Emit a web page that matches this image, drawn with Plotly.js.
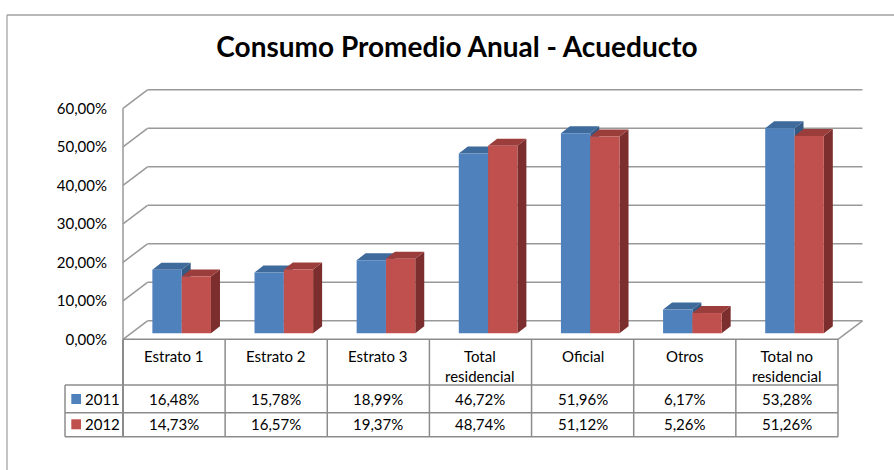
<!DOCTYPE html>
<html>
<head>
<meta charset="utf-8">
<script src="https://cdn.plot.ly/plotly-3.0.1.min.js"></script>
<style>html,body{margin:0;padding:0;background:#fff;}#chart{width:894px;height:470px;}</style>
</head>
<body>
<div id="chart"></div>
<script>
// ---- data ----
var categories = ['Estrato 1', 'Estrato 2', 'Estrato 3', 'Total residencial', 'Oficial', 'Otros', 'Total no residencial'];
var categoryLabels = ['Estrato 1', 'Estrato 2', 'Estrato 3', 'Total<br>residencial', 'Oficial', 'Otros', 'Total no<br>residencial'];
var seriesNames = ['2011', '2012'];
var values2011 = [16.48, 15.78, 18.99, 46.72, 51.96, 6.17, 53.28];
var values2012 = [14.73, 16.57, 19.37, 48.74, 51.12, 5.26, 51.26];
var yTickVals = [0, 10, 20, 30, 40, 50, 60];
var yTickText = ['0,00%', '10,00%', '20,00%', '30,00%', '40,00%', '50,00%', '60,00%'];

// ---- style / geometry constants ----
var W = 894, H = 470;
var PX_PER_CAT = 102.14, X_ZERO_PX = 174.07;
var PX_PER_UNIT_Y = 3.85, Y_ZERO_PX = 339.3;
function px2x(p) { return (p - X_ZERO_PX) / PX_PER_CAT; }
function px2y(p) { return (Y_ZERO_PX - p) / PX_PER_UNIT_Y; }
function dxu(p) { return p / PX_PER_CAT; }
function dyu(p) { return p / PX_PER_UNIT_Y; }

var BACK_DX = dxu(24.5), BACK_DY = dyu(18.5);
var BAR_DX0 = dxu(7.6), BAR_DY0 = dyu(6);
var BAR_W = dxu(29.3);
var BAR_DDX = dxu(9), BAR_DDY = dyu(7);
var colors = {
  front: ['#4F81BD', '#C0504D'],
  top: ['#3E6A9C', '#9B3D3B'],
  side: ['#355A85', '#7B2E2D']
};
var GRID = '#999999';
var TABLE = '#8C8C8C';
var FONT = 'Lato, "Open Sans", sans-serif';

var idx = categories.map(function (c, i) { return i; });
var nCat = categories.length;
var xL = -0.5, xR = nCat - 0.5;

var shapes = [];
function line(x0, y0, x1, y1, color, w, xref, yref) {
  shapes.push({type: 'line', xref: xref || 'x', yref: yref || 'y', x0: x0, y0: y0, x1: x1, y1: y1,
    line: {color: color, width: w}, layer: 'below'});
}
// back wall gridlines and left wall
yTickVals.forEach(function (v) {
  line(xL + BACK_DX, v + BACK_DY, xR + BACK_DX, v + BACK_DY, GRID, 1.5);
  line(xL, v, xL + BACK_DX, v + BACK_DY, GRID, 1.5);
});
line(xL, 0, xL, yTickVals[yTickVals.length - 1], GRID, 1.5);
line(xR, 0, xR + BACK_DX, BACK_DY, GRID, 1.5);

// bar 3D faces
var allSeries = [values2011, values2012];
allSeries.forEach(function (vals, s) {
  vals.forEach(function (v, i) {
    var x0 = i + BAR_DX0 - BAR_W + s * BAR_W;
    var x1 = x0 + BAR_W;
    var b = BAR_DY0, t = BAR_DY0 + v;
    shapes.push({type: 'path', xref: 'x', yref: 'y', layer: 'below', line: {width: 0},
      fillcolor: colors.side[s],
      path: 'M' + x1 + ',' + b + ' L' + x1 + ',' + t + ' L' + (x1 + BAR_DDX) + ',' + (t + BAR_DDY) +
        ' L' + (x1 + BAR_DDX) + ',' + (b + BAR_DDY) + ' Z'});
    shapes.push({type: 'path', xref: 'x', yref: 'y', layer: 'below', line: {width: 0},
      fillcolor: colors.top[s],
      path: 'M' + x0 + ',' + t + ' L' + x1 + ',' + t + ' L' + (x1 + BAR_DDX) + ',' + (t + BAR_DDY) +
        ' L' + (x0 + BAR_DDX) + ',' + (t + BAR_DDY) + ' Z'});
  });
});

// data table
var rowHeaderBottom = px2y(385), row1Bottom = px2y(412.7), row2Bottom = px2y(436.7);
var legendLeft = px2x(65);
line(xL, 0, xR, 0, TABLE, 1.5);
[rowHeaderBottom, row1Bottom, row2Bottom].forEach(function (yy) { line(legendLeft, yy, xR, yy, TABLE, 1.5); });
line(legendLeft, rowHeaderBottom, legendLeft, row2Bottom, TABLE, 1.5);
for (var k = 0; k <= nCat; k++) line(xL + k, 0, xL + k, row2Bottom, TABLE, k === 0 ? 2 : 1.5);

// chart border
shapes.push({type: 'line', xref: 'paper', yref: 'paper', x0: 7 / W, x1: 7 / W, y0: 1 - 15 / H, y1: -0.05, line: {color: '#B0B0B0', width: 1.5}});
shapes.push({type: 'line', xref: 'paper', yref: 'paper', x0: 7 / W, x1: 1.05, y0: 1 - 15 / H, y1: 1 - 15 / H, line: {color: '#A0A0A0', width: 1.5}});

var annotations = [];
var tf = {family: FONT, size: 15, color: '#000'};
categoryLabels.forEach(function (lab, i) {
  annotations.push({xref: 'x', yref: 'y', x: i, y: px2y(345), text: lab, showarrow: false, xanchor: 'center', yanchor: 'top', font: tf});
});
function fmt(v) { return v.toFixed(2).replace('.', ',') + '%'; }
var rowCenters = [px2y(399), px2y(424.3)];
allSeries.forEach(function (vals, s) {
  vals.forEach(function (v, i) {
    annotations.push({xref: 'x', yref: 'y', x: i, y: rowCenters[s], text: fmt(v), showarrow: false, xanchor: 'center', yanchor: 'middle', font: tf});
  });
  annotations.push({xref: 'x', yref: 'y', x: px2x(83), y: rowCenters[s], text: seriesNames[s], showarrow: false, xanchor: 'left', yanchor: 'middle', font: tf});
  shapes.push({type: 'rect', xref: 'x', yref: 'y', x0: px2x(71.3), x1: px2x(81), y0: rowCenters[s] - dyu(5), y1: rowCenters[s] + dyu(5),
    fillcolor: colors.front[s], line: {width: 0}});
});

var traces = allSeries.map(function (vals, s) {
  return {
    type: 'bar', name: seriesNames[s], x: idx, y: vals, base: BAR_DY0,
    width: BAR_W, offset: BAR_DX0 - BAR_W + s * BAR_W,
    marker: {color: colors.front[s], line: {width: 0}},
    hovertext: categories, hoverinfo: 'text+y+name'
  };
});

var layout = {
  width: W, height: H,
  margin: {l: 0, r: 0, t: 0, b: 0},
  paper_bgcolor: '#fff', plot_bgcolor: 'rgba(0,0,0,0)',
  showlegend: false, barmode: 'overlay',
  title: {text: 'Consumo Promedio Anual - Acueducto', x: 457 / W, xanchor: 'center', y: 1 - 47 / H, yanchor: 'middle',
    font: {family: FONT, size: 28, weight: 700, color: '#000'}},
  xaxis: {range: [px2x(0), px2x(W)], visible: false, fixedrange: true},
  yaxis: {range: [px2y(H), px2y(0)], tickvals: yTickVals, ticktext: yTickText, showgrid: false, zeroline: false,
    showline: false, ticks: '', anchor: 'free', position: 107 / W, tickfont: {family: FONT, size: 15, color: '#000'}, fixedrange: true},
  shapes: shapes,
  annotations: annotations
};
Plotly.newPlot('chart', traces, layout, {displayModeBar: false, staticPlot: true});
</script>
</body>
</html>
